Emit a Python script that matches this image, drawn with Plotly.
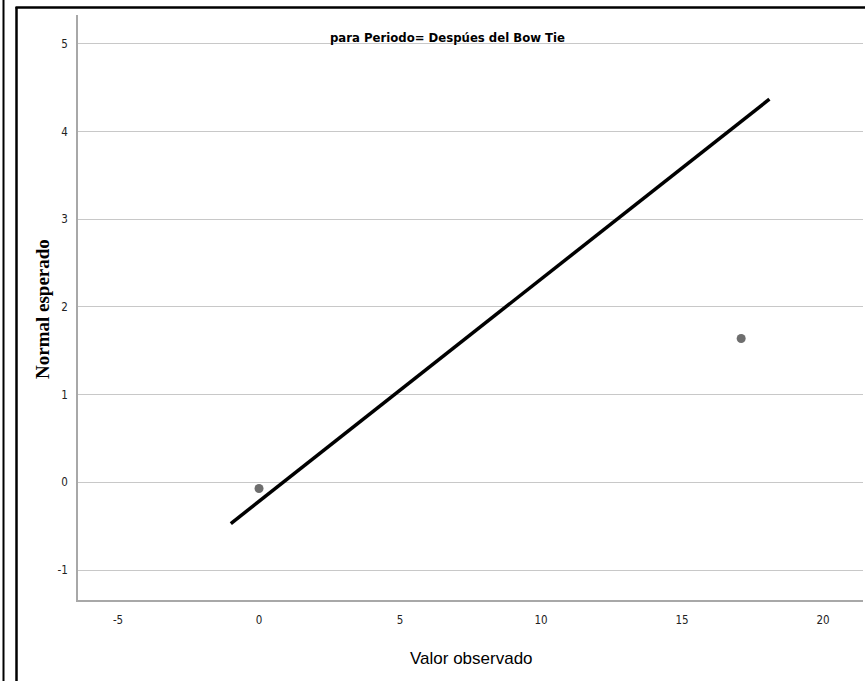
import plotly.graph_objects as go

# Data
obs_x = [0.0, 17.1]
obs_y = [-0.07, 1.64]
line_x = [-1.0, 18.1]
line_y = [-0.47, 4.37]
x_ticks = [-5, 0, 5, 10, 15, 20]
y_ticks = [-1, 0, 1, 2, 3, 4, 5]
title_text = "para Periodo= Despúes del Bow Tie"
x_title = "Valor observado"
y_title = "Normal esperado"

W, H = 865, 681
L, R, T, B = 78, 2, 15, 81
pw, ph = W - L - R, H - T - B

def px(p):
    return (p - L) / pw

def py(q):
    return (H - B - q) / ph

NARROW = "DejaVu Sans Condensed, Roboto, Liberation Sans"

fig = go.Figure()
fig.add_trace(go.Scatter(x=line_x, y=line_y, mode="lines",
                         line=dict(color="black", width=3.5), showlegend=False))
fig.add_trace(go.Scatter(x=obs_x, y=obs_y, mode="markers",
                         marker=dict(color="#6e6e6e", size=9), showlegend=False))

fig.update_layout(
    width=W, height=H,
    margin=dict(l=L, r=R, t=T, b=B),
    paper_bgcolor="white", plot_bgcolor="white",
    font=dict(family=NARROW, size=11, color="#222"),
    xaxis=dict(range=[-6.42, 21.42], tickvals=x_ticks, ticktext=[str(v) for v in x_ticks],
               showgrid=False, zeroline=False,
               showline=True, linecolor="#a8a8a8", linewidth=1.5, ticks="",
               ticklabelstandoff=8, tickfont=dict(size=11.5)),
    yaxis=dict(range=[-1.342, 5.33], tickvals=y_ticks, ticktext=[str(v) for v in y_ticks],
               showgrid=True, gridcolor="#c8c8c8",
               gridwidth=1.2, zeroline=False, showline=True, linecolor="#a8a8a8", linewidth=1.5,
               ticks="", ticklabelstandoff=6, tickfont=dict(size=11.5)),
    annotations=[
        dict(text="<b>" + title_text + "</b>", xref="paper", yref="paper", x=px(447), y=py(38),
             xanchor="center", yanchor="middle", showarrow=False,
             font=dict(family=NARROW, size=13, color="black"),
             ),
        dict(text="<b>" + y_title + "</b>", xref="paper", yref="paper", x=px(42), y=py(309),
             xanchor="center", yanchor="middle", showarrow=False, textangle=-90,
             font=dict(family="Liberation Serif, Times New Roman, serif", size=19, color="black")),
        dict(text=x_title, xref="paper", yref="paper", x=px(471), y=py(658),
             xanchor="center", yanchor="middle", showarrow=False,
             font=dict(family="Liberation Sans, Arial", size=17, color="black")),
    ],
    shapes=[
        dict(type="line", xref="paper", yref="paper", x0=px(3.5), x1=px(3.5), y0=py(0), y1=py(H),
             line=dict(color="black", width=2)),
        dict(type="line", xref="paper", yref="paper", x0=px(16.5), x1=px(16.5), y0=py(7), y1=py(H),
             line=dict(color="black", width=2.5)),
        dict(type="line", xref="paper", yref="paper", x0=px(15.5), x1=px(W), y0=py(7.5), y1=py(7.5),
             line=dict(color="black", width=2.5)),
    ],
)

fig.write_html("out.html")
